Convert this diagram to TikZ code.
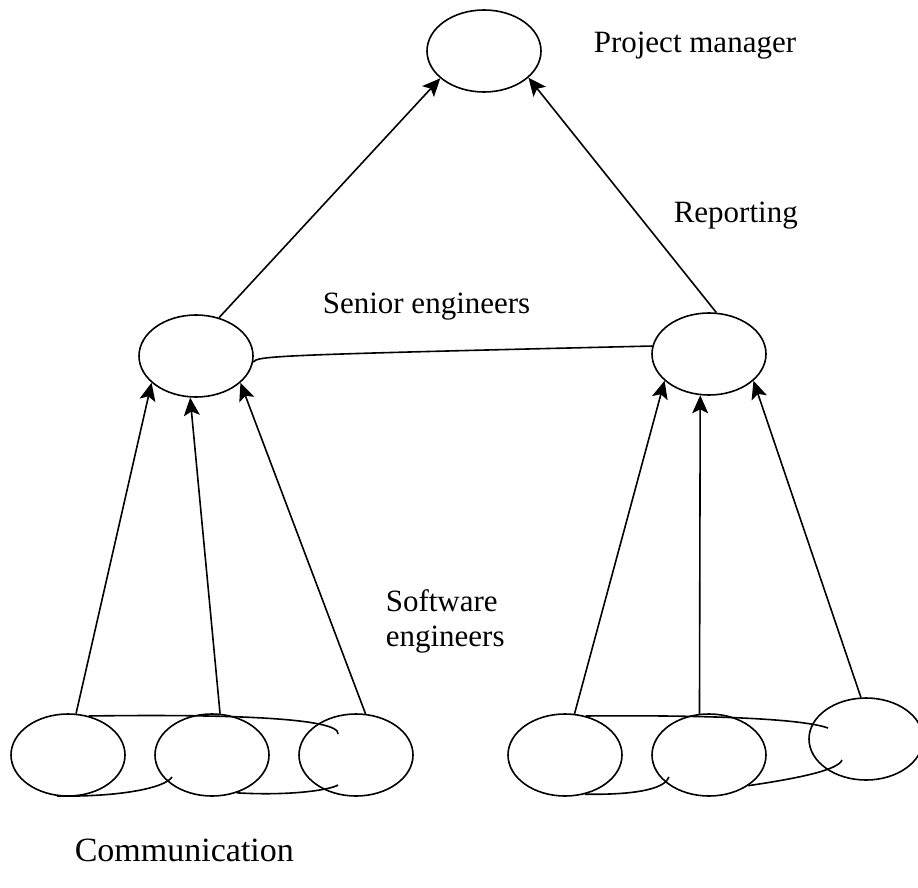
\documentclass[tikz,border=0pt]{standalone}
\usepackage{fontspec}
\setmainfont{Liberation Serif}
\usetikzlibrary{shapes.geometric,arrows.meta}

\begin{document}
\begin{tikzpicture}[x=1pt,y=1pt,line width=1.6pt,
  oval/.style={draw,ellipse,minimum width=114pt,minimum height=82pt,inner sep=0pt},
  lab/.style={font=\fontsize{31}{35}\selectfont,inner sep=0pt,anchor=base west,align=left},
  rep/.style={-{Stealth[length=18pt,width=16pt,inset=4pt]}}]
\useasboundingbox (0,0) rectangle (918,-888);

% project manager and senior engineers
\node[oval] (pm) at (484,-51) {};
\node[oval] (s1) at (196,-356) {};
\node[oval] (s2) at (709,-354) {};

% software engineers
\node[oval] (b1) at (68,-755) {};
\node[oval] (b2) at (212,-755) {};
\node[oval] (b3) at (356,-755) {};
\node[oval] (b4) at (565,-755) {};
\node[oval] (b5) at (709,-755) {};
\node[oval] (b6) at (866,-739) {};

\node[lab] (tpm) at (593,-53) {Project manager};
\node[lab] (trep) at (673,-222) {Reporting};
\node[lab] (tsen) at (322,-313) {Senior engineers};
\node[lab] (tsw) at (385,-646) {Software\\engineers};
\node[lab,font=\fontsize{34}{40}\selectfont] (tcom) at (74,-861) {Communication};

% reporting lines
\draw[rep] (s1.59) -- (pm.212);
\draw[rep] (s2.80) -- (pm.329);

\draw[rep] (b1.79) -- (s1.211);
\draw[rep] (b2.79) -- (s1.262);
\draw[rep] (b3.77) -- (s1.329);
\draw[rep] (b4.77) -- (s2.211);
\draw[rep] (b5.103) -- (s2.258);
\draw[rep] (b6.97) -- (s2.329);

% communication
\draw (s1.-6) .. controls (258,-356) and (270,-355) .. (s2.172);

\coordinate (e1) at (338,-734);
\coordinate (e2) at (172,-777);
\coordinate (e3) at (338,-785);
\draw (b1.62) .. controls (230,-714) and (340,-718) .. (e1);
\draw (b1.255) .. controls (120,-797) and (165,-788) .. (e2);
\draw (b2.303) .. controls (290,-796) and (330,-790) .. (e3);

\coordinate (e4) at (828,-728);
\coordinate (e5) at (669,-777);
\coordinate (e6) at (842,-760);
\draw (b4.62) .. controls (700,-715) and (800,-718) .. (e4);
\draw (b4.297) .. controls (640,-795) and (665,-788) .. (e5);
\draw (b5.322) .. controls (800,-778) and (838,-770) .. (e6);

\end{tikzpicture}
\end{document}
